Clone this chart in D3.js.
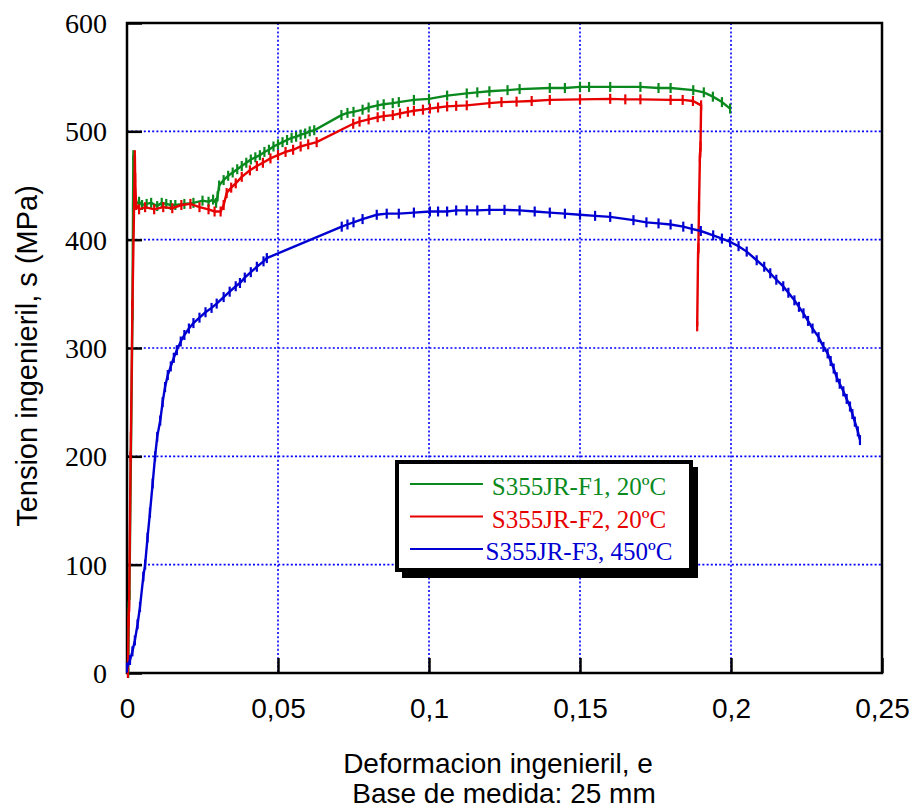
<!DOCTYPE html>
<html><head><meta charset="utf-8">
<script src="https://cdn.jsdelivr.net/npm/d3@7"></script>
<style>body{margin:0;background:#fff}svg{display:block}</style>
</head><body>
<svg id="c" width="914" height="810"></svg>
<script>
const xTicks = [0, 0.05, 0.1, 0.15, 0.2, 0.25];
const xTickLabels = ["0", "0,05", "0,1", "0,15", "0,2", "0,25"];
const yTicks = [0, 100, 200, 300, 400, 500, 600];
const seriesNames = ["S355JR-F1, 20ºC", "S355JR-F2, 20ºC", "S355JR-F3, 450ºC"];
const seriesColors = ["#0a8a1e", "#e60000", "#0000d2"];

const f1 = [[0.0004,0],[0.0006,62],[0.0008,72],[0.0013,200],[0.0018,330],[0.002,430],[0.0021,478],[0.0023,470],[0.0025,436],[0.003,433],[0.004,435],[0.005,432],[0.0065,433],[0.008,434],[0.010,431],[0.0115,434],[0.013,433],[0.0145,432],[0.016,432],[0.019,433],[0.022,434],[0.025,436],[0.027,435],[0.0285,437],[0.0295,434],[0.030,440],[0.0305,450],[0.032,455],[0.0335,459],[0.035,462],[0.0365,465],[0.038,468],[0.0395,471],[0.041,474],[0.0425,476],[0.044,478],[0.0455,481],[0.047,483],[0.0485,486],[0.050,488],[0.0515,490],[0.053,492],[0.0545,494],[0.056,495],[0.0575,497],[0.059,498],[0.0605,500],[0.062,501],[0.071,515],[0.073,517],[0.075,518],[0.078,520],[0.080,522],[0.083,524],[0.085,525],[0.088,526],[0.090,527],[0.095,529],[0.100,530],[0.106,533],[0.1125,535],[0.116,536],[0.120,537],[0.126,538],[0.130,539],[0.140,540],[0.145,540],[0.150,541],[0.153,541],[0.160,541],[0.170,541],[0.176,540],[0.180,540],[0.1875,538],[0.191,536],[0.194,532],[0.197,527],[0.1997,521]];
const f2 = [[0.0003,0],[0.0005,47],[0.0006,55],[0.0007,61],[0.0012,200],[0.0013,218],[0.0018,340],[0.0024,440],[0.0026,478],[0.0027,457],[0.003,432],[0.004,428],[0.006,430],[0.009,428],[0.012,430],[0.015,429],[0.018,432],[0.021,433],[0.024,430],[0.027,428],[0.029,426],[0.031,426],[0.032,432],[0.033,443],[0.0345,448],[0.036,452],[0.038,458],[0.0407,464],[0.043,468],[0.045,471],[0.0475,475],[0.050,478],[0.0525,481],[0.055,483],[0.0575,486],[0.060,488],[0.0628,490],[0.0749,507],[0.077,509],[0.080,511],[0.083,513],[0.085,514],[0.088,515],[0.0904,516.5],[0.093,518],[0.095,519],[0.098,520],[0.1003,521],[0.103,522],[0.106,523],[0.109,523.5],[0.1125,524],[0.120,526],[0.124,527],[0.129,527.4],[0.134,528],[0.140,529],[0.150,529.5],[0.160,530],[0.165,529.5],[0.170,529.5],[0.180,529],[0.184,529],[0.1874,528],[0.1901,524],[0.1899,486],[0.1898,480],[0.1897,476],[0.1894,430],[0.1892,392],[0.1891,388],[0.1888,320]];
const f3 = [[0,5],[0.001,12],[0.0018,20],[0.0026,30],[0.0035,45],[0.0043,61],[0.0054,89],[0.006,100],[0.0068,125],[0.0076,148],[0.0085,175],[0.0093,200],[0.010,218],[0.011,233],[0.0118,250],[0.0126,264],[0.0135,275],[0.0145,283],[0.0155,291],[0.0165,298],[0.0178,306],[0.019,312],[0.0205,318],[0.022,323],[0.024,328],[0.026,333],[0.028,337],[0.0297,341],[0.032,347],[0.034,352],[0.036,357],[0.0374,360],[0.039,365],[0.041,370],[0.043,375],[0.0452,380],[0.0463,383],[0.0711,412],[0.073,414],[0.075,416],[0.078,419],[0.0827,423],[0.086,424],[0.090,424],[0.095,425],[0.1003,426],[0.103,426],[0.106,426],[0.109,427],[0.1125,427],[0.116,427],[0.120,427.5],[0.125,427.5],[0.130,427],[0.135,426],[0.140,425],[0.145,424],[0.150,423],[0.155,422],[0.160,421],[0.1677,418],[0.172,416],[0.176,415],[0.180,414],[0.1842,412],[0.187,410],[0.190,408],[0.1941,404],[0.197,401],[0.1997,398],[0.2025,394],[0.2052,389],[0.2085,381],[0.211,375],[0.213,369],[0.215,363],[0.2173,357],[0.219,351],[0.221,344],[0.2225,338],[0.224,332],[0.2255,325],[0.227,318],[0.229,310],[0.2306,301],[0.232,295],[0.233,288],[0.234,281],[0.235,273],[0.236,267],[0.2372,260],[0.2383,253],[0.2394,246],[0.2402,239],[0.241,232],[0.242,223],[0.2427,215]];
const allSeries = [f1, f2, f3];

const L = 127, R = 882, T = 23, B = 673;
const x = d3.scaleLinear().domain([0, 0.25]).range([L, R]);
const y = d3.scaleLinear().domain([0, 600]).range([B, T]);
const svg = d3.select("#c");
svg.append("rect").attr("width", 914).attr("height", 810).attr("fill", "#fff");

// grid
const grid = svg.append("g").attr("stroke", "#0000ff").attr("stroke-width", 1.6).attr("stroke-dasharray", "2,2.2");
grid.selectAll("line.v").data(xTicks.slice(1, -1)).join("line")
  .attr("x1", d => x(d)).attr("x2", d => x(d)).attr("y1", T).attr("y2", B);
grid.selectAll("line.h").data(yTicks.slice(1, -1)).join("line")
  .attr("x1", L).attr("x2", R).attr("y1", d => y(d)).attr("y2", d => y(d));

// axes with inner ticks
const xAxis = svg.append("g").attr("transform", `translate(0,${B})`)
  .call(d3.axisBottom(x).tickValues(xTicks).tickSizeInner(-15).tickSizeOuter(0).tickFormat((d, i) => xTickLabels[i]));
xAxis.select(".domain").remove();
xAxis.selectAll(".tick line").attr("stroke", "#000").attr("stroke-width", 2.5);
xAxis.selectAll(".tick text").attr("font-family", "Liberation Sans, Arial, sans-serif").attr("font-size", 28).attr("fill", "#000").attr("y", 25).attr("dy", "0.71em");

const yAxis = svg.append("g").attr("transform", `translate(${L},0)`)
  .call(d3.axisLeft(y).tickValues(yTicks).tickSizeInner(-15).tickSizeOuter(0));
yAxis.select(".domain").remove();
yAxis.selectAll(".tick line").attr("stroke", "#000").attr("stroke-width", 2.5);
yAxis.selectAll(".tick text").attr("font-family", "Liberation Serif, Times New Roman, serif").attr("font-size", 28).attr("fill", "#000").attr("x", -20).attr("dy", "0.34em");

// frame
svg.append("rect").attr("x", L).attr("y", T).attr("width", R - L).attr("height", B - T)
  .attr("fill", "none").attr("stroke", "#000").attr("stroke-width", 2.5);

// series
const line = d3.line().x(d => x(d[0])).y(d => y(d[1]));
allSeries.forEach((s, i) => {
  const g = svg.append("g");
  g.append("path").datum(s).attr("d", line).attr("fill", "none").attr("stroke", seriesColors[i]).attr("stroke-width", 2.4);
  g.selectAll("line").data(s).join("line")
    .attr("x1", d => x(d[0])).attr("x2", d => x(d[0]))
    .attr("y1", d => y(d[1]) - 5).attr("y2", d => y(d[1]) + 5)
    .attr("stroke", seriesColors[i]).attr("stroke-width", 2.2);
});

// legend
const lg = svg.append("g");
lg.append("rect").attr("x", 402).attr("y", 467).attr("width", 296).attr("height", 111).attr("fill", "#000");
lg.append("rect").attr("x", 397).attr("y", 462).attr("width", 294).attr("height", 108).attr("fill", "#fff").attr("stroke", "#000").attr("stroke-width", 4);
seriesNames.forEach((n, i) => {
  const yy = 484 + i * 32.5;
  lg.append("line").attr("x1", 410).attr("x2", 483).attr("y1", yy).attr("y2", yy).attr("stroke", seriesColors[i]).attr("stroke-width", 2.2);
  lg.append("text").attr("x", 579).attr("y", yy + 11).attr("text-anchor", "middle")
    .attr("font-family", "Liberation Serif, Times New Roman, serif").attr("font-size", 25)
    .attr("fill", seriesColors[i]).text(n);
});

// titles
svg.append("text").attr("x", 498).attr("y", 773).attr("text-anchor", "middle")
  .attr("font-family", "Liberation Sans, Arial, sans-serif").attr("font-size", 28).attr("fill", "#000")
  .text("Deformacion ingenieril, e");
svg.append("text").attr("x", 504).attr("y", 803).attr("text-anchor", "middle")
  .attr("font-family", "Liberation Sans, Arial, sans-serif").attr("font-size", 28).attr("fill", "#000")
  .text("Base de medida: 25 mm");
svg.append("text").attr("transform", "translate(37,356) rotate(-90)").attr("text-anchor", "middle")
  .attr("font-family", "Liberation Sans, Arial, sans-serif").attr("font-size", 29).attr("fill", "#000")
  .text("Tension ingenieril, s (MPa)");
</script>
</body></html>
